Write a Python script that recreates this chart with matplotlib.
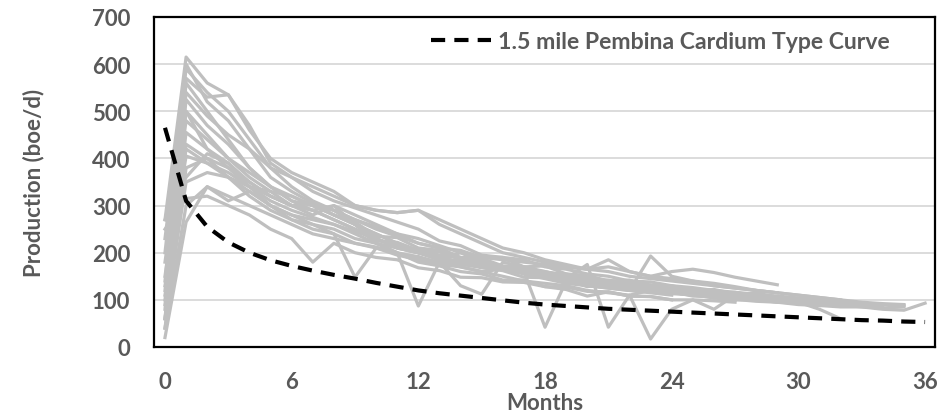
import numpy as np
import matplotlib.pyplot as plt
from matplotlib.lines import Line2D

# monthly production per well (boe/d), month 0 onward
wells = [
    [270, 615, 560, 535, 470, 390, 360, 330, 310, 295, 280, 265, 250, 225, 215, 195, 190, 185, 170, 165, 155, 150, 140, 138, 130, 126, 120, 116, 112, 108, 104, 100, 96, 92],
    [230, 590, 540, 500, 440, 380, 340, 310, 290, 270, 255, 240, 220, 210, 190, 188, 172, 170, 158, 155, 143, 142, 133, 132, 124, 121, 114, 112, 104, 100, 95, 80, 60],
    [140, 570, 530, 535, 460, 400, 370, 350, 330, 300, 290, 285, 290, 270, 250, 230, 210, 200, 185, 175, 165, 170, 160, 150, 145, 140, 135, 128, 120, 115],
    [120, 540, 490, 450, 420, 360, 330, 305, 280, 265, 235, 232, 210, 205, 185, 183, 165, 162, 148, 147, 138, 137, 128, 130, 122, 122, 116, 116, 108, 106, 99, 98, 94, 92, 90, 88],
    [60, 525, 470, 430, 380, 340, 310, 300, 290, 270, 250, 235, 220, 210, 205, 190, 190, 170, 172, 155, 152, 140, 142, 130, 130, 120, 122, 113, 112, 103, 101, 93, 90, 85, 80, 78, 93],
    [100, 500, 450, 400, 360, 330, 300, 290, 300, 280, 260, 240, 230, 215, 200, 190, 185, 180, 175, 170, 165, 160, 150, 145, 140, 135, 130, 125, 120, 115, 110, 105, 100, 95, 92, 90],
    [90, 455, 420, 390, 350, 320, 300, 290, 270, 250, 225, 222, 205, 202, 185, 182, 165, 162, 148, 142, 128, 135, 124, 121, 113, 111, 104, 101, 97, 95],
    [130, 405, 390, 370, 340, 330, 320, 300, 280, 260, 220, 200, 180, 172, 160, 155, 142, 142, 128, 122, 108, 117, 108, 107, 100],
    [40, 380, 400, 380, 350, 320, 300, 280, 300, 260, 230, 210, 200, 190, 180, 175, 170, 165, 160, 150, 145, 140, 135, 130, 125, 120, 118, 112, 108, 100, 96, 92, 88],
    [270, 360, 410, 390, 340, 320, 300, 305, 290, 260, 240, 220, 200, 185, 200, 180, 170, 165, 155, 140, 150, 130, 120, 115, 110],
    [250, 315, 320, 300, 280, 250, 230, 180, 220, 200, 190, 185, 168, 162, 148, 147, 138, 137, 128, 127, 118, 117, 108, 107, 100, 100, 98, 95],
    [20, 265, 340, 310, 330, 300, 280, 260, 240, 220, 212, 198, 192, 178, 177, 168, 162, 148, 147, 138, 137, 128, 127, 118, 117, 108, 107, 100, 100, 95, 90, 88, 85, 85, 83, 85],
    [180, 500, 420, 380, 340, 300, 270, 250, 240, 148, 210, 200, 87, 180, 170, 160, 165, 155, 145, 135, 130, 125, 120, 118, 115, 110, 105, 100],
    [60, 430, 400, 360, 320, 290, 270, 260, 250, 230, 220, 200, 190, 180, 130, 112, 180, 170, 160, 150, 140, 135, 130, 125, 120, 115, 110, 105, 100, 96, 92, 88],
    [80, 560, 500, 440, 380, 340, 310, 290, 270, 250, 230, 210, 200, 185, 175, 170, 165, 160, 42, 140, 135, 130, 125, 120, 115, 112, 108, 104, 100, 96],
    [150, 480, 440, 400, 370, 340, 320, 300, 280, 260, 240, 220, 200, 190, 180, 175, 170, 160, 150, 145, 175, 42, 110, 120, 115, 112, 108, 104],
    [110, 420, 390, 360, 330, 300, 280, 270, 260, 240, 220, 210, 200, 190, 180, 170, 165, 160, 150, 140, 130, 125, 120, 193, 150, 140, 130, 125, 120, 115, 110, 105, 100],
    [40, 300, 340, 320, 300, 280, 260, 240, 230, 220, 210, 195, 185, 175, 170, 160, 150, 140, 135, 130, 120, 115, 110, 17, 80, 100, 80, 110, 115, 105, 100, 95, 90],
    [200, 600, 520, 480, 420, 380, 360, 340, 320, 300, 290, 285, 290, 260, 240, 220, 200, 190, 180, 170, 165, 185, 160, 150, 160, 165, 158, 148, 140, 132],
    [60, 350, 370, 360, 340, 310, 290, 275, 260, 245, 230, 215, 205, 195, 190, 180, 170, 165, 155, 150, 145, 140, 130, 125, 120, 115, 110, 108, 105, 100, 98, 95, 92, 90, 88],
]

type_curve = [465, 310, 255, 222, 200, 184, 172, 162, 153, 145, 136, 128, 120, 114, 109, 104, 99, 94, 90, 87,
              84, 81, 79, 77, 75, 73, 71, 69, 67, 65, 63, 61, 59, 57, 56, 54, 53]

x_ticks = [0, 6, 12, 18, 24, 30, 36]
y_ticks = [0, 100, 200, 300, 400, 500, 600, 700]
legend_label = '1.5 mile Pembina Cardium Type Curve'

plt.rcParams['font.family'] = ['Lato', 'DejaVu Sans']
plt.rcParams['font.weight'] = 'bold'
txt = '#595959'
fs = 16

fig = plt.figure(figsize=(9.49, 4.14), dpi=100)
ax = fig.add_axes([154 / 949, 66 / 414, 781 / 949, 330 / 414])

for w in wells:
    ax.plot(np.arange(len(w)), w, color='#BFBFBF', lw=2.3, zorder=2)

ax.plot(np.arange(len(type_curve)), type_curve, color='black', lw=3, dashes=(3.4, 2.2), zorder=3)

ax.set_xlim(-0.52, 36.47)
ax.set_ylim(0, 700)
ax.set_xticks(x_ticks)
ax.set_yticks(y_ticks)
ax.grid(axis='y', color='#D9D9D9', lw=1.3)
ax.set_axisbelow(True)
ax.tick_params(length=0, labelsize=fs, labelcolor=txt, pad=17)
for s in ax.spines.values():
    s.set_color('black')
    s.set_linewidth(1.6)

ax.set_ylabel('Production (boe/d)', fontsize=fs, color=txt, fontweight='bold', labelpad=34)
ax.set_xlabel('Months', fontsize=fs, color=txt, fontweight='bold', labelpad=0)

handle = Line2D([], [], color='black', lw=3, dashes=(3.4, 2.2))
ax.legend([handle], [legend_label], loc='center right', bbox_to_anchor=(0.968, 0.927),
          frameon=False, fontsize=16.6, labelcolor=txt, handlelength=2.6, handletextpad=0.3)

fig.savefig('out.png', dpi=100)
